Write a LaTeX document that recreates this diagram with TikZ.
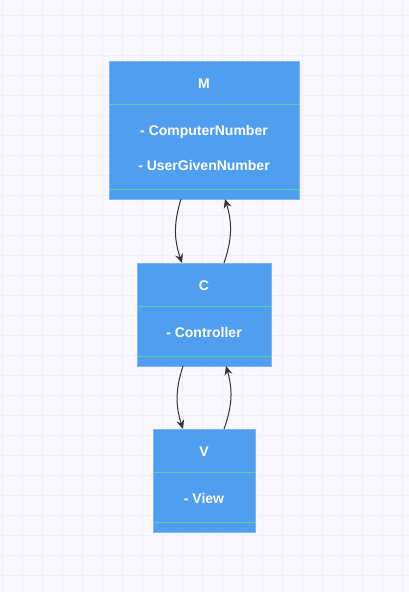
\documentclass[tikz,border=0pt]{standalone}
\usepackage{fontspec}
\setmainfont{Liberation Sans}
\usepackage{tikz}
\usetikzlibrary{positioning,arrows.meta,calc}

\definecolor{paper}{HTML}{F8F8FE}
\definecolor{gridcol}{HTML}{EEEFFA}
\definecolor{boxblue}{HTML}{509EF0}
\definecolor{boxline}{HTML}{7DB6F6}
\definecolor{sepcol}{HTML}{52D3B0}
\definecolor{linkcol}{HTML}{333333}

\begin{document}
\begin{tikzpicture}[
x=1pt,y=1pt,
classbox/.style={
  draw=boxline,
  fill=boxblue,
  line width=0.8pt,
  outer sep=0pt,
  inner sep=0pt},
sepline/.style={
  draw=sepcol,
  line width=1pt},
label/.style={
  text=white,
  font=\bfseries\fontsize{14}{16}\selectfont,
  anchor=base},
gridline/.style={
  draw=gridcol,
  line width=1pt},
link/.style={
  draw=linkcol,
  line width=1pt,
  -{Stealth[length=9pt,width=8pt,inset=3pt]}}
]
% background and grid
\fill[paper] (0,0) rectangle (409,-592);
\useasboundingbox (0,0) rectangle (409,-592);
\foreach \x in {2,22,...,402}
  \draw[gridline] (\x,0) -- (\x,-592);
\foreach \y in {15,35,...,575}
  \draw[gridline] (0,-\y) -- (409,-\y);

% class boxes
\node[classbox, minimum width=190pt, minimum height=138pt] (m) at (204,-130) {};
\node[classbox, minimum width=134pt, minimum height=103pt, below=64pt of m] (c) {};
\node[classbox, minimum width=102pt, minimum height=103pt, below=63pt of c] (v) {};

% compartments
\foreach \b in {m,c,v}{
  \draw[sepline] ([yshift=-43pt]\b.north west) -- ([yshift=-43pt]\b.north east);
  \draw[sepline] ([yshift=10pt]\b.south west) -- ([yshift=10pt]\b.south east);
}

% texts
\node[label] (mname) at ([yshift=-27pt]m.north) {M};
\node[label] (mattra) at ([yshift=-74pt]m.north) {- ComputerNumber};
\node[label] (mattrb) at ([yshift=-109pt]m.north) {- UserGivenNumber};
\node[label] (cname) at ([yshift=-27pt]c.north) {C};
\node[label] (cattr) at ([yshift=-74pt]c.north) {- Controller};
\node[label] (vname) at ([yshift=-27pt]v.north) {V};
\node[label] (vattr) at ([yshift=-74pt]v.north) {- View};

% links
\draw[link] ([xshift=-23pt]m.south) to[bend right=18] ([xshift=-22pt]c.north);
\draw[link] ([xshift=20pt]c.north) to[bend right=18] ([xshift=21pt]m.south);
\draw[link] ([xshift=-21pt]c.south) to[bend right=18] ([xshift=-21pt]v.north);
\draw[link] ([xshift=20pt]v.north) to[bend right=18] ([xshift=22pt]c.south);
\end{tikzpicture}
\end{document}
